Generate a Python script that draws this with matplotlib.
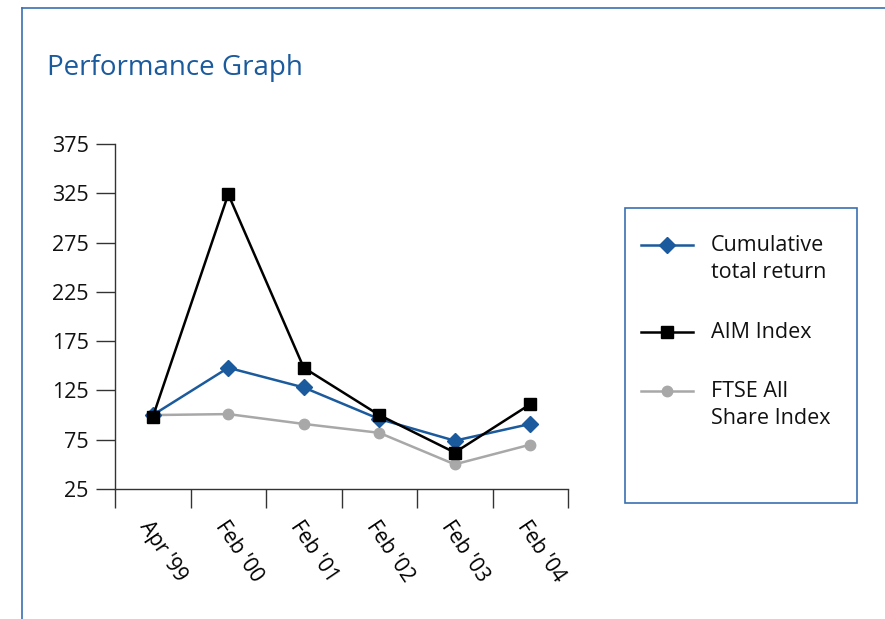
import matplotlib
matplotlib.use('Agg')
import matplotlib.pyplot as plt
from matplotlib.lines import Line2D
from matplotlib.patches import Rectangle

# --- data ---
periods = ["Apr '99", "Feb '00", "Feb '01", "Feb '02", "Feb '03", "Feb '04"]
cumulative_return = [100, 148, 128, 96, 74, 91]
aim_index = [98, 324, 148, 100, 62, 111]
ftse_all_share = [100, 101, 91, 82, 50, 70]
y_ticks = [25, 75, 125, 175, 225, 275, 325, 375]

series_names = ["Cumulative\ntotal return", "AIM Index", "FTSE All\nShare Index"]

BLUE = '#1b5a9c'
GREY = '#a8a8a8'
FRAME = '#3a6fb0'

plt.rcParams['font.family'] = ['Open Sans', 'DejaVu Sans']

fig = plt.figure(figsize=(8.85, 6.19), dpi=100)
W, H = 885, 619

def fx(px):
    return px / W

def fy(py):
    return 1 - py / H

# outer frame (top and left edges visible)
fig.add_artist(Line2D([fx(22), 1], [fy(8), fy(8)], color=FRAME, lw=1.2))
fig.add_artist(Line2D([fx(22), fx(22)], [fy(8), 0], color=FRAME, lw=1.2))

fig.text(fx(47), fy(68), "Performance Graph", color=BLUE, fontsize=20,
         va='center', ha='left')

ax = fig.add_axes([fx(115), fy(489), fx(568) - fx(115), fy(144) - fy(489)])
x = list(range(len(periods)))

styles = [
    dict(color=BLUE, marker='D', markersize=8),
    dict(color='black', marker='s', markersize=8),
    dict(color=GREY, marker='o', markersize=7.5),
]
for vals, st in zip([ftse_all_share, cumulative_return, aim_index],
                    [styles[2], styles[0], styles[1]]):
    ax.plot(x, vals, lw=1.8, clip_on=False, **st)

ax.set_xlim(-0.5, len(periods) - 0.5)
ax.set_ylim(y_ticks[0], y_ticks[-1])
ax.set_yticks(y_ticks)
ax.set_xticks([i - 0.5 for i in range(len(periods) + 1)])
ax.set_xticklabels([])
ax.set_xticks(x, minor=True)
ax.set_xticklabels(periods, minor=True, rotation=-56, ha='left', va='top',
                   rotation_mode='anchor', fontsize=15)
ax.tick_params(axis='x', which='minor', length=0, pad=20)
ax.tick_params(axis='x', which='major', length=14, width=1, color='#333333')
ax.tick_params(axis='y', length=14, width=1, color='#333333', labelsize=15.5,
               pad=5, labelcolor='#111111')
for s in ['top', 'right']:
    ax.spines[s].set_visible(False)
for s in ['left', 'bottom']:
    ax.spines[s].set_color('#333333')
    ax.spines[s].set_linewidth(1)
ax.set_facecolor('none')

# --- legend box drawn by hand ---
fig.add_artist(Rectangle((fx(625), fy(503)), fx(857) - fx(625), fy(208) - fy(503),
                         fill=False, edgecolor=FRAME, lw=1.2))
leg_rows = [259, 332, 405]
for name, st, yrow in zip(series_names, styles, leg_rows):
    line_y = yrow - 14 if '\n' in name else yrow
    fig.add_artist(Line2D([fx(641), fx(693)], [fy(line_y), fy(line_y)], lw=1.8,
                          color=st['color']))
    fig.add_artist(Line2D([fx(667)], [fy(line_y)], color=st['color'],
                          marker=st['marker'], markersize=st['markersize'], lw=0))
    fig.text(fx(711), fy(yrow), name, fontsize=15.5, va='center', ha='left',
             linespacing=1.38, color='#111111')

plt.savefig('out.png', dpi=100)
